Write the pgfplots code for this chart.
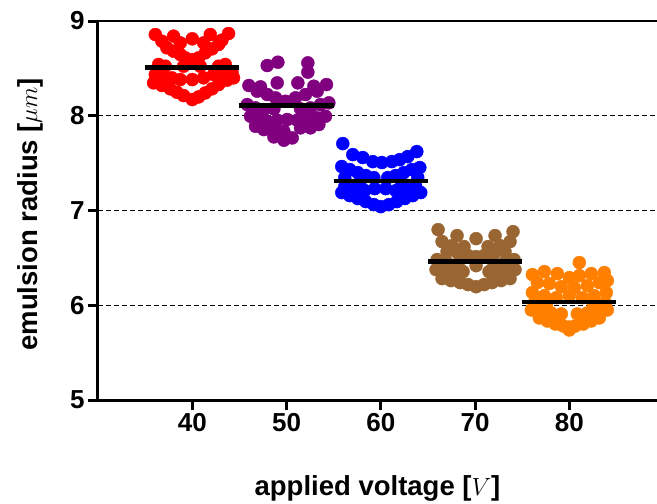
\documentclass[border=0pt]{standalone}
\usepackage{pgfplots}
\pgfplotsset{compat=1.18}
\usepackage{fontspec}
\setmainfont{Liberation Sans}
\definecolor{cred}{RGB}{255,0,0}
\definecolor{cpurple}{RGB}{128,0,128}
\definecolor{cblue}{RGB}{0,0,255}
\definecolor{cbrown}{RGB}{153,102,51}
\definecolor{corange}{RGB}{255,128,0}
\pgfplotsset{
  dots/.style={#1, only marks, mark=*, mark size=6.5pt},
  meanline/.style={black, line width=4.5pt, no marks, sharp plot, on layer=axis foreground},
}
\begin{document}
\begin{tikzpicture}
\begin{axis}[
  set layers,
  at={(0,0)}, anchor=south west,
  scale only axis, width=559pt, height=379pt,
  xmin=30, xmax=89.3, ymin=5, ymax=9,
  axis x line*=bottom, axis y line*=left,
  axis line style={-, line width=3pt, black},
  xtick={40,50,60,70,80}, ytick={5,6,7,8,9},
  tick align=outside, major tick length=10pt,
  tick style={black, line width=3pt},
  ymajorgrids, grid style={black, line width=1.1pt, dash pattern=on 5pt off 3pt},
  /pgf/number format/assume math mode=true,
  ticklabel style={font=\fontsize{26}{26}\selectfont\bfseries},
  label style={font=\fontsize{27.5}{27.5}\selectfont\bfseries},
  xlabel={applied voltage [$V$]},
  ylabel={emulsion radius [$\mu m$]},
  xlabel style={at={(axis description cs:0.5,-0.253)}, anchor=base},
  ylabel style={at={(axis description cs:-0.1216,0.49)}, anchor=center},
  clip=false,
]
\draw[black, line width=2pt] (rel axis cs:0,1) -- (rel axis cs:1,1);
\addplot[dots=cred] coordinates {
(36.08,8.857)(38.02,8.840)(40.00,8.812)(41.91,8.857)(43.85,8.868)
(36.78,8.787)(38.73,8.769)(41.20,8.769)(43.15,8.798)
(37.31,8.717)(38.02,8.681)(38.73,8.646)(39.26,8.611)(40.00,8.593)(40.67,8.611)(41.38,8.664)(42.09,8.706)(42.79,8.752)
(36.43,8.541)(37.14,8.523)(43.50,8.541)(42.79,8.523)(39.08,8.523)(40.85,8.523)
(36.08,8.435)(36.96,8.417)(37.84,8.400)(38.73,8.382)(40.00,8.382)(41.20,8.400)(42.26,8.435)(43.32,8.453)(44.21,8.460)
(35.90,8.347)(36.78,8.319)(37.67,8.284)(38.37,8.248)(39.08,8.213)(40.00,8.171)(40.67,8.199)(41.38,8.241)(42.09,8.284)(42.79,8.329)(43.68,8.375)(44.38,8.400)
};
\addplot[dots=cpurple] coordinates {
(47.95,8.530)(49.08,8.565)(52.26,8.558)(52.26,8.460)
(46.01,8.319)(47.24,8.305)(49.01,8.347)(51.20,8.347)(52.90,8.312)(54.24,8.329)
(46.89,8.259)(47.95,8.224)(48.83,8.189)(49.89,8.153)(50.95,8.189)(52.01,8.224)(53.25,8.259)
(45.83,8.118)(46.71,8.083)(47.60,8.065)(48.66,8.073)(51.48,8.073)(52.54,8.083)(53.60,8.118)(54.49,8.136)
(46.18,7.995)(47.07,7.960)(47.95,7.942)(49.01,7.953)(50.07,7.960)(51.13,7.953)(52.19,7.967)(53.25,7.978)(54.13,7.995)
(46.71,7.889)(47.60,7.854)(48.66,7.872)(51.48,7.872)(52.54,7.872)(53.43,7.907)
(48.66,7.777)(49.72,7.742)(50.60,7.766)(49.72,7.836)
};
\addplot[dots=cblue] coordinates {
(55.97,7.706)
(57.03,7.590)(58.09,7.559)(59.15,7.516)(60.11,7.506)(61.17,7.516)(62.01,7.537)(62.86,7.569)(63.82,7.622)
(55.86,7.464)(56.71,7.432)(57.56,7.400)(58.41,7.369)(59.26,7.347)(64.14,7.453)(63.29,7.432)(62.44,7.400)(61.59,7.369)(60.74,7.347)
(56.18,7.347)(63.92,7.347)(57.77,7.295)(62.23,7.295)
(56.18,7.252)(57.24,7.231)(58.30,7.210)(59.36,7.231)(60.53,7.231)(61.59,7.210)(62.65,7.231)(63.71,7.252)
(55.86,7.189)(56.71,7.157)(57.56,7.126)(58.41,7.094)(59.26,7.062)(60.00,7.041)(60.85,7.062)(61.70,7.094)(62.55,7.126)(63.39,7.157)(64.24,7.189)
};
\addplot[dots=cbrown] coordinates {
(66.08,6.798)(68.09,6.735)(70.11,6.703)(72.12,6.735)(74.03,6.777)
(66.50,6.672)(67.56,6.629)(68.83,6.619)(71.38,6.619)(72.65,6.629)(73.71,6.672)
(67.03,6.566)(68.20,6.545)(69.26,6.524)(70.11,6.513)(70.95,6.524)(72.01,6.545)(73.18,6.566)
(65.97,6.482)(67.03,6.450)(68.20,6.418)(72.01,6.418)(73.08,6.450)(74.14,6.482)
(65.86,6.376)(66.82,6.355)(67.77,6.334)(68.73,6.355)(70.11,6.418)(71.48,6.355)(72.44,6.334)(73.39,6.355)(74.24,6.376)
(66.50,6.281)(67.45,6.260)(68.41,6.239)(71.80,6.239)(72.76,6.260)(73.71,6.281)
(69.26,6.218)(70.11,6.196)(70.95,6.218)
};
\addplot[dots=corange] coordinates {
(81.06,6.450)
(76.08,6.323)(77.35,6.355)(78.73,6.334)(80.00,6.292)(81.06,6.313)(82.33,6.334)(83.71,6.345)
(76.61,6.239)(77.88,6.229)(79.15,6.196)(80.53,6.186)(81.91,6.207)(83.18,6.239)(84.03,6.260)
(76.08,6.133)(77.35,6.101)(78.62,6.080)(80.00,6.101)(81.38,6.080)(82.65,6.101)(83.92,6.133)
(76.29,6.025)(77.56,6.003)(82.55,6.003)(83.82,6.025)
(75.97,5.950)(77.03,5.929)(78.09,5.918)(79.15,5.908)(80.85,5.908)(81.91,5.918)(82.97,5.929)(84.03,5.950)
(76.82,5.866)(77.67,5.834)(78.52,5.802)(79.36,5.781)(80.00,5.770)(80.64,5.781)(81.48,5.802)(82.33,5.834)(83.18,5.866)
(80.00,5.739)
};
\addplot[meanline] coordinates {(35,8.51)(45,8.51)};
\addplot[meanline] coordinates {(45,8.11)(55,8.11)};
\addplot[meanline] coordinates {(55,7.31)(65,7.31)};
\addplot[meanline] coordinates {(65,6.46)(75,6.46)};
\addplot[meanline] coordinates {(75,6.035)(85,6.035)};
\end{axis}
\pgfresetboundingbox
\path (-98pt,-104pt) rectangle (559pt,400pt);
\end{tikzpicture}
\end{document}
